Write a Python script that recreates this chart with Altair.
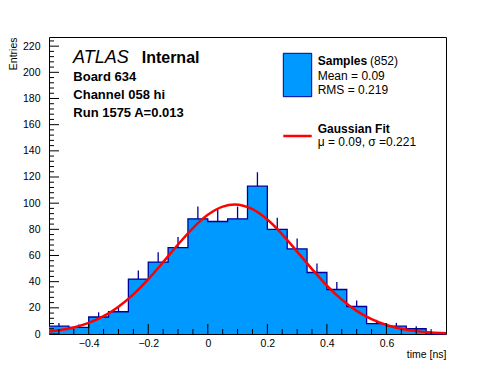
import altair as alt
import pandas as pd

# ---- data ----
x_min = -8 / 15
x_max = 0.8
bin_width = 1 / 15
counts = [6, 5, 13, 17, 42, 55, 66, 88, 86, 88, 113, 80, 65, 47, 34, 21, 8, 6, 4, 0]

fit_x = [-0.533, -0.5, -0.45, -0.4, -0.35, -0.3, -0.25, -0.2, -0.15, -0.1, -0.05, 0.0,
         0.05, 0.09, 0.15, 0.2, 0.25, 0.3, 0.35, 0.4, 0.45, 0.5, 0.55, 0.6, 0.65, 0.7, 0.75, 0.8]
fit_y = [1.9, 2.8, 5.0, 8.5, 13.6, 20.9, 30.3, 41.9, 54.9, 68.4, 81.0, 91.1,
         97.4, 99.0, 95.4, 87.5, 76.2, 63.0, 49.6, 37.0, 26.3, 17.7, 11.3, 6.9, 4.0, 2.2, 1.1, 0.6]

x_major = [-0.4, -0.2, 0.0, 0.2, 0.4, 0.6]
x_minor = [-0.5, -0.45, -0.35, -0.3, -0.25, -0.15, -0.1, -0.05, 0.05, 0.1, 0.15,
           0.25, 0.3, 0.35, 0.45, 0.5, 0.55, 0.65, 0.7, 0.75]
y_major = [0, 20, 40, 60, 80, 100, 120, 140, 160, 180, 200, 220]
y_minor = [v for v in range(0, 228, 4) if v % 20 != 0]

W, H = 397, 297
FILL = "#0099ff"
EDGE = "#000099"
FONT = "Liberation Sans"

lo = [x_min + i * bin_width for i in range(len(counts))]
hi = [x_min + (i + 1) * bin_width for i in range(len(counts))]
hist = pd.DataFrame({"lo": lo, "hi": hi, "n": counts,
                     "c": [(a + b) / 2 for a, b in zip(lo, hi)]})
step = pd.DataFrame({"x": lo + [hi[-1]], "n": counts + [counts[-1]]})
fit = pd.DataFrame({"x": fit_x, "y": fit_y})

xs = alt.Scale(domain=[x_min, x_max], nice=False, zero=False)
ys = alt.Scale(domain=[0, 227], nice=False, zero=False)

xaxis = alt.Axis(values=x_major, labelExpr="datum.value == 0 ? '0' : format(datum.value, '.1f')",
                 ticks=False, domain=False, grid=False, labelPadding=4, labelFontSize=10.5,
                 labelFont=FONT, labelColor="black", labelOverlap=False, title="time [ns]",
                 titleFont=FONT, titleFontSize=10.5, titleFontWeight="normal", titleX=W, titleY=23,
                 titleAlign="right", titleBaseline="alphabetic", titleColor="black")
yaxis = alt.Axis(values=y_major, ticks=False, domain=False, grid=False, labelPadding=9,
                 labelFontSize=10.5, labelFont=FONT, labelColor="black", labelOverlap=False,
                 title="Entries", titleFont=FONT, titleFontSize=10.5, titleFontWeight="normal",
                 titleX=-33, titleY=0, titleAngle=270, titleAlign="right",
                 titleBaseline="alphabetic", titleColor="black")


def X(f):
    return alt.X(f, scale=xs, axis=xaxis, title="time [ns]")


def Y(f):
    return alt.Y(f, scale=ys, axis=yaxis, title="Entries")


bars = alt.Chart(step).mark_area(interpolate="step-after", color=FILL, opacity=1).encode(
    x=X("x:Q"), y=Y("n:Q"), y2=alt.datum(0))

outline = alt.Chart(step).mark_line(interpolate="step-after", color=EDGE, strokeWidth=1.3).encode(
    x=X("x:Q"), y=Y("n:Q"))

errs = alt.Chart(hist).transform_filter("datum.n > 0").transform_calculate(
    up="datum.n + sqrt(datum.n)").mark_rule(color=EDGE, strokeWidth=1.3).encode(
    x=X("c:Q"), y=Y("n:Q"), y2="up:Q")

curve = alt.Chart(fit).mark_line(interpolate="monotone", color="#ff0000", strokeWidth=2.5).encode(
    x=X("x:Q"), y=Y("y:Q"))

xmaj = alt.Chart(pd.DataFrame({"v": x_major})).mark_rule(color="black").encode(
    x=X("v:Q"), y=alt.value(H), y2=alt.value(H - 10))
xmin_t = alt.Chart(pd.DataFrame({"v": x_minor})).mark_rule(color="black").encode(
    x=X("v:Q"), y=alt.value(H), y2=alt.value(H - 5))
ymaj = alt.Chart(pd.DataFrame({"v": y_major})).mark_rule(color="black").encode(
    y=Y("v:Q"), x=alt.value(0), x2=alt.value(10))
ymin_t = alt.Chart(pd.DataFrame({"v": y_minor})).mark_rule(color="black").encode(
    y=Y("v:Q"), x=alt.value(0), x2=alt.value(5))

one = pd.DataFrame({"k": [0]})


def txt(s, x, y, size, weight="normal", style="normal", font=FONT):
    return alt.Chart(one).mark_text(text=s, align="left", baseline="alphabetic", fontSize=size,
                                    fontWeight=weight, fontStyle=style, font=font,
                                    color="black").encode(x=alt.value(x), y=alt.value(y))


texts = [
    txt("ATLAS", 24, 25.7, 18, style="italic"),
    txt("Internal", 92.7, 25.7, 16, weight="bold"),
    txt("Board 634", 24.3, 44, 13, weight="bold"),
    txt("Channel 058 hi", 24.3, 62, 13, weight="bold"),
    txt("Run 1575 A=0.013", 24.3, 80, 13, weight="bold"),
    txt("Samples", 268.7, 28, 12, weight="bold"),
    txt("(852)", 321, 28, 12),
    txt("Mean = 0.09", 268.7, 43, 12),
    txt("RMS = 0.219", 268.7, 57, 12),
    txt("Gaussian Fit", 268.7, 96.3, 12, weight="bold"),
    txt("\u03bc = 0.09, \u03c3 =0.221", 268.7, 109, 12),
]

leg_box = alt.Chart(one).mark_rect(fill=FILL, stroke=EDGE, strokeWidth=1).encode(
    x=alt.value(234.3), x2=alt.value(262.7), y=alt.value(16.3), y2=alt.value(59.7))
leg_line = alt.Chart(one).mark_rule(color="#ff0000", strokeWidth=2.5).encode(
    x=alt.value(234.3), x2=alt.value(262.7), y=alt.value(99))

chart = alt.layer(bars, outline, errs, curve, xmaj, xmin_t, ymaj, ymin_t, leg_box, leg_line,
                  *texts).properties(
    width=W, height=H,
    autosize=alt.AutoSizeParams(type="none"),
    padding={"left": 41, "top": 29, "right": 40, "bottom": 28},
    background="white",
).configure_view(stroke="black", strokeWidth=1)

chart.save("out.html", embed_options={"renderer": "svg", "actions": False})
